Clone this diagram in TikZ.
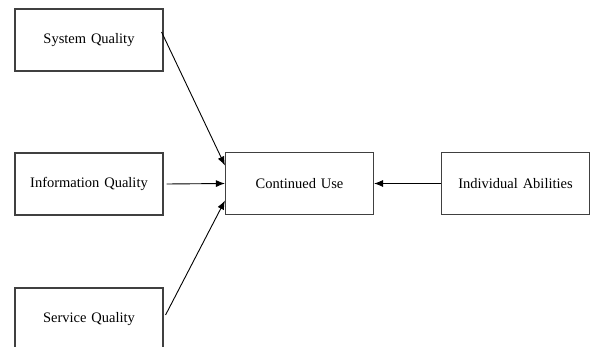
\documentclass[tikz,border=0pt]{standalone}
\usepackage{fontspec}
\setmainfont{Liberation Serif}
\usetikzlibrary{arrows,arrows.meta,positioning,calc}
\tikzset{
    block/.style={rectangle, draw=black!75, text width=148pt, align=center, minimum height=62pt, inner sep=0pt, font=\fontsize{14.5}{16}\selectfont, line width=1.1pt},
    line/.style={draw, -{Latex[length=9pt,width=7pt]}, line width=0.9pt}
}
\begin{document}
\begin{tikzpicture}[x=1pt, y=-1pt, node distance=144pt]
    \useasboundingbox (0,0) rectangle (591,347);
    \node [block] (info) at (89,184) {Information Quality};
    \node [block, above of=info] (sys) {System Quality};
    \node [block, below of=info, node distance=135pt] (serv) {Service Quality};
    \node [block, right of=info, node distance=210.5pt, yshift=0.5pt] (use) {Continued Use};
    \node [block, right of=use, node distance=216pt] (abil) {Individual Abilities};

    \path [line] ([yshift=8pt, xshift=-2pt]sys.east) -- ([yshift=18pt]use.west);
    \path [line] ([xshift=3pt]info.east) -- (use.west);
    \path [line] ([yshift=4pt, xshift=2pt]serv.east) -- ([yshift=-17pt]use.west);
    \path [line] (abil.west) -- (use.east);
\end{tikzpicture}
\end{document}
